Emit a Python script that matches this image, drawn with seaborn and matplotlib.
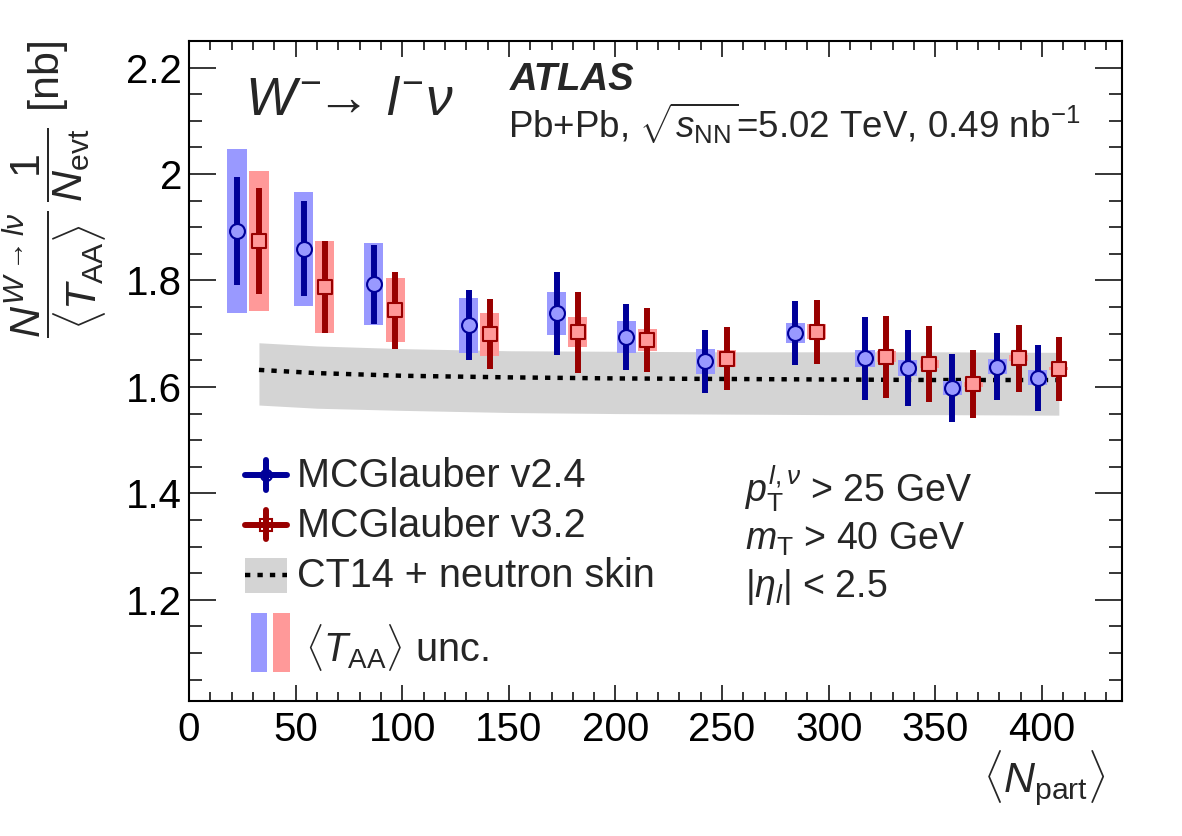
import numpy as np
import pandas as pd
import matplotlib
matplotlib.use("Agg")
import matplotlib.pyplot as plt
import seaborn as sns
from matplotlib.ticker import MultipleLocator, FuncFormatter
from matplotlib.lines import Line2D
from matplotlib.patches import Rectangle

# MCGlauber v2.4
npart_v24 = [22.5, 53.8, 86.7, 131.1, 172.4, 205.0, 242.2, 284.4, 317.0, 337.1, 358.0, 379.0, 397.9]
yield_v24 = [1.893, 1.860, 1.793, 1.716, 1.738, 1.694, 1.648, 1.701, 1.654, 1.636, 1.598, 1.638, 1.617]
stat_v24 = [0.102, 0.090, 0.074, 0.066, 0.078, 0.062, 0.059, 0.060, 0.078, 0.071, 0.064, 0.063, 0.062]
taa_v24 = [0.154, 0.107, 0.077, 0.052, 0.040, 0.030, 0.023, 0.019, 0.016, 0.015, 0.014, 0.014, 0.014]

# MCGlauber v3.2
npart_v32 = [32.8, 63.6, 96.7, 141.1, 182.2, 215.0, 252.2, 294.4, 326.9, 347.1, 367.7, 389.1, 407.9]
yield_v32 = [1.874, 1.788, 1.744, 1.699, 1.703, 1.688, 1.653, 1.704, 1.657, 1.643, 1.605, 1.654, 1.634]
stat_v32 = [0.099, 0.087, 0.072, 0.066, 0.076, 0.060, 0.059, 0.060, 0.077, 0.071, 0.064, 0.063, 0.060]
taa_v32 = [0.132, 0.086, 0.060, 0.040, 0.028, 0.021, 0.016, 0.014, 0.011, 0.007, 0.005, 0.006, 0.003]

# CT14 + neutron skin prediction
npart_th = [32.8, 60, 100, 150, 200, 250, 300, 350, 407.9]
th_central = [1.632, 1.626, 1.621, 1.618, 1.616, 1.615, 1.614, 1.613, 1.613]
th_up = [1.683, 1.677, 1.672, 1.668, 1.667, 1.666, 1.666, 1.666, 1.665]
th_down = [1.566, 1.560, 1.556, 1.552, 1.550, 1.549, 1.548, 1.548, 1.547]

BLUE_DARK, BLUE_LIGHT = "#000099", "#9999ff"
RED_DARK, RED_LIGHT = "#990000", "#ff9999"
GREY = "#d4d4d4"

sns.set_theme(style="ticks")
plt.rcParams["font.family"] = ["Liberation Sans", "DejaVu Sans"]
plt.rcParams["mathtext.fontset"] = "custom"
plt.rcParams["mathtext.rm"] = "Liberation Sans"
plt.rcParams["mathtext.it"] = "Liberation Sans:italic"
plt.rcParams["mathtext.bf"] = "Liberation Sans:bold"
plt.rcParams["mathtext.sf"] = "Liberation Sans"

v24 = pd.DataFrame({"npart": npart_v24, "y": yield_v24, "stat": stat_v24, "taa": taa_v24})
v32 = pd.DataFrame({"npart": npart_v32, "y": yield_v32, "stat": stat_v32, "taa": taa_v32})
theory = pd.DataFrame({"npart": npart_th, "y": th_central, "up": th_up, "down": th_down})

fig = plt.figure(figsize=(11.82, 8.36), dpi=100)
ax = fig.add_axes([0.1599, 0.1615, 0.7893, 0.7895])

# theory band + central line
ax.fill_between(theory["npart"], theory["down"], theory["up"], color=GREY, lw=0, zorder=1)
sns.lineplot(data=theory, x="npart", y="y", color="black", lw=3.2,
             linestyle=(0, (1.2, 1.6)), ax=ax, zorder=2)

box_w = 9
for df, light, dark, marker in [(v24, BLUE_LIGHT, BLUE_DARK, "o"), (v32, RED_LIGHT, RED_DARK, "s")]:
    ax.bar(df["npart"], 2 * df["taa"], bottom=df["y"] - df["taa"], width=box_w,
           color=light, lw=0, zorder=3)
for df, light, dark, marker in [(v24, BLUE_LIGHT, BLUE_DARK, "o"), (v32, RED_LIGHT, RED_DARK, "s")]:
    ax.vlines(df["npart"], df["y"] - df["stat"], df["y"] + df["stat"], color=dark, lw=4.3,
              zorder=4)
    sns.scatterplot(data=df, x="npart", y="y", marker=marker, s=115, color=light,
                    edgecolor=dark, linewidth=1.5, ax=ax, zorder=5, legend=False)

ax.set_xlim(0, 437.5)
ax.set_ylim(1.01, 2.25)
ax.xaxis.set_major_locator(MultipleLocator(50))
ax.xaxis.set_minor_locator(MultipleLocator(10))
ax.yaxis.set_major_locator(MultipleLocator(0.2))
ax.yaxis.set_minor_locator(MultipleLocator(0.05))
ax.yaxis.set_major_formatter(FuncFormatter(lambda v, p: f"{v:g}"))
ax.tick_params(which="both", direction="in", top=True, right=True, width=1.1, colors="black")
ax.tick_params(axis="x", which="major", length=11.5, labelsize=29, pad=7)
ax.tick_params(axis="x", which="minor", length=6.5)
ax.tick_params(axis="y", which="major", length=19.5, labelsize=29, pad=5)
ax.tick_params(axis="y", which="minor", length=9.5)
for s in ax.spines.values():
    s.set_linewidth(1.5)
    s.set_color("black")

ax.set_xlabel(r"$\langle N_{\mathrm{part}}\rangle$", fontsize=31, ha="right", va="top")
ax.xaxis.set_label_coords(0.982, -0.072)
ax.set_ylabel(r"$\dfrac{N^{W\rightarrow l\nu}}{\langle T_{\mathrm{AA}}\rangle}\,\dfrac{1}{N_{\mathrm{evt}}}$ [nb]",
              loc="top", fontsize=31, labelpad=12)

# header texts
tr = ax.transAxes
ax.text(0.060, 0.888, r"$W^{-}\!\!\rightarrow\, l^{-}\nu$", transform=tr, fontsize=38.5)
ax.text(0.344, 0.925, "ATLAS", transform=tr, fontsize=27.5, fontweight="bold", fontstyle="italic")
ax.text(0.342, 0.853, r"Pb+Pb, $\sqrt{s_{\mathrm{NN}}}$=5.02 TeV, 0.49 nb$^{-1}$", transform=tr,
        fontsize=26.5)
ax.text(0.596, 0.3015, r"$p_{\mathrm{T}}^{l,\nu}$ > 25 GeV", transform=tr, fontsize=27)
ax.text(0.596, 0.2288, r"$m_{\mathrm{T}}$ > 40 GeV", transform=tr, fontsize=27)
ax.text(0.596, 0.1576, r"$|\eta_{l}|$ < 2.5", transform=tr, fontsize=27)

# legend
for yrow, dark, marker in [(0.3424, BLUE_DARK, "o"), (0.2667, RED_DARK, "s")]:
    ax.add_line(Line2D([0.060, 0.105], [yrow, yrow], transform=tr, color=dark, lw=4.3))
    ax.add_line(Line2D([0.0825, 0.0825], [yrow - 0.022, yrow + 0.022], transform=tr, color=dark, lw=4.3))
    ax.add_line(Line2D([0.0825], [yrow], transform=tr, marker=marker, ms=8, mfc="none",
                       mec=dark, mew=1.5))
ax.add_patch(Rectangle((0.060, 0.1636), 0.045, 0.053, transform=tr, color=GREY, lw=0))
ax.add_line(Line2D([0.060, 0.105], [0.1909, 0.1909], transform=tr, color="black", lw=3.2,
                   linestyle=(0, (1.2, 1.6))))
ax.text(0.1158, 0.324, "MCGlauber v2.4", transform=tr, fontsize=28.5)
ax.text(0.1158, 0.2485, "MCGlauber v3.2", transform=tr, fontsize=28.5)
ax.text(0.1158, 0.1727, "CT14 + neutron skin", transform=tr, fontsize=28.5)
ax.add_patch(Rectangle((0.0661, 0.0439), 0.0175, 0.0894, transform=tr, color=BLUE_LIGHT, lw=0))
ax.add_patch(Rectangle((0.0900, 0.0439), 0.0183, 0.0894, transform=tr, color=RED_LIGHT, lw=0))
ax.text(0.1243, 0.0591, r"$\langle T_{\mathrm{AA}}\rangle$ unc.", transform=tr, fontsize=28.5)

fig.savefig("out.png", dpi=100)
